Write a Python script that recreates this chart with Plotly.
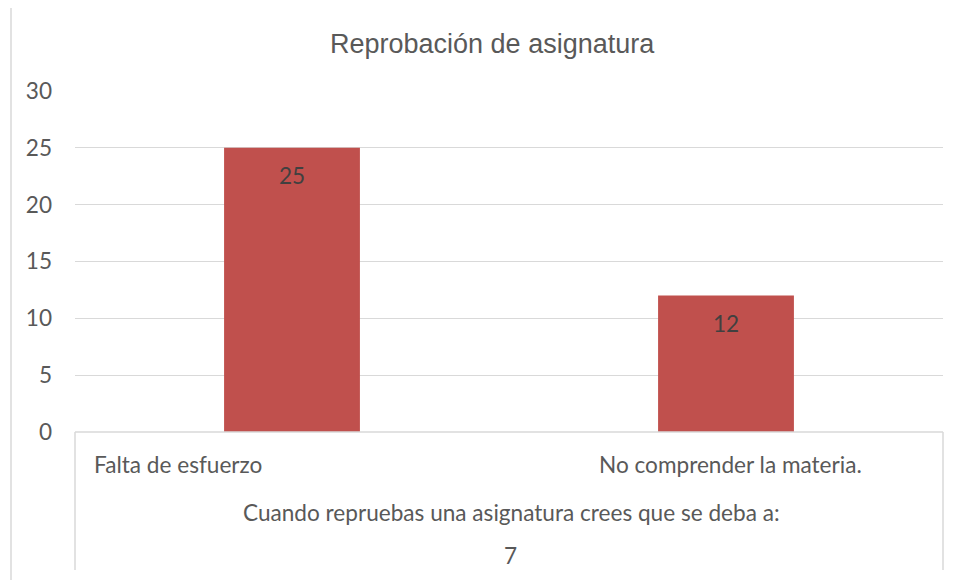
import plotly.graph_objects as go

# Datos del gráfico
categorias = ["Falta de esfuerzo", "No comprender la materia."]
valores = [25, 12]
titulo = "Reprobación de asignatura"
pregunta = "Cuando repruebas una asignatura crees que se deba a:"
numero = "7"
y_ticks = [0, 5, 10, 15, 20, 25, 30]

BAR_COLOR = "#C0504D"
GRID = "#D9D9D9"
TXT = "#595959"
FONT = "Lato, sans-serif"
FS = 22.6

# la página deja 8 px de margen alrededor de la figura
OFF = 8
W, H = 961 - OFF, 580 - OFF
L, R, T, B = 75 - OFF, 18, 91 - OFF, 148
pw, ph = W - L - R, H - T - B


def px_x(x):
    # x de pantalla -> fracción del área de trazado
    return (x - OFF - L) / pw


def px_y(y):
    return (H - B - (y - OFF)) / ph


fig = go.Figure()
fig.add_trace(go.Bar(
    x=categorias,
    y=valores,
    width=0.313,
    marker=dict(color=BAR_COLOR, line=dict(width=0)),
    hoverinfo="x+y",
))

annotations = []
# valores dentro de las barras
for cat, v in zip(categorias, valores):
    annotations.append(dict(
        text=str(v), x=cat, y=v, xref="x", yref="y", yshift=-28,
        yanchor="middle", showarrow=False,
        font=dict(family=FONT, size=FS, color="#404040"),
    ))

# etiquetas de categoría como tabla bajo el eje
label_x = [92, 597]
for cat, xp in zip(categorias, label_x):
    annotations.append(dict(
        text=cat, xref="paper", yref="paper", x=px_x(xp), y=px_y(465),
        xanchor="left", yanchor="middle", showarrow=False,
        font=dict(family=FONT, size=FS, color=TXT),
    ))
annotations.append(dict(
    text=pregunta, xref="paper", yref="paper", x=px_x(511), y=px_y(512),
    xanchor="center", yanchor="middle", showarrow=False,
    font=dict(family=FONT, size=FS, color=TXT),
))
annotations.append(dict(
    text=numero, xref="paper", yref="paper", x=px_x(510), y=px_y(555),
    xanchor="center", yanchor="middle", showarrow=False,
    font=dict(family=FONT, size=FS, color=TXT),
))
annotations.append(dict(
    text=titulo, xref="paper", yref="paper", x=px_x(492), y=px_y(44),
    xanchor="center", yanchor="middle", showarrow=False,
    font=dict(family="'Liberation Sans', Arial, sans-serif", size=27, color=TXT),
))

line = dict(color=GRID, width=1.5)
shapes = [
    # borde exterior
    dict(type="line", xref="paper", yref="paper", x0=px_x(11), x1=px_x(961),
         y0=px_y(6), y1=px_y(6), line=line),
    dict(type="line", xref="paper", yref="paper", x0=px_x(11), x1=px_x(11),
         y0=px_y(6), y1=px_y(580), line=line),
    # tabla de categorías
    dict(type="line", xref="paper", yref="paper", x0=0, x1=1,
         y0=0, y1=0, line=line),
    dict(type="line", xref="paper", yref="paper", x0=0, x1=0,
         y0=0, y1=px_y(570), line=line),
    dict(type="line", xref="paper", yref="paper", x0=1, x1=1,
         y0=0, y1=px_y(570), line=line),
]

fig.update_layout(
    width=W, height=H,
    margin=dict(l=L, r=R, t=T, b=B, autoexpand=False),
    paper_bgcolor="white", plot_bgcolor="white",
    xaxis=dict(showticklabels=False, showgrid=False, zeroline=False,
               showline=False, fixedrange=True),
    yaxis=dict(range=[0, 30], tickvals=y_ticks, showgrid=True, gridcolor=GRID,
               gridwidth=1, zeroline=False, showline=False,
               ticklabelstandoff=22,
               tickfont=dict(family=FONT, size=FS, color=TXT)),
    showlegend=False,
    annotations=annotations,
    shapes=shapes,
)

fig.write_html("out.html")
